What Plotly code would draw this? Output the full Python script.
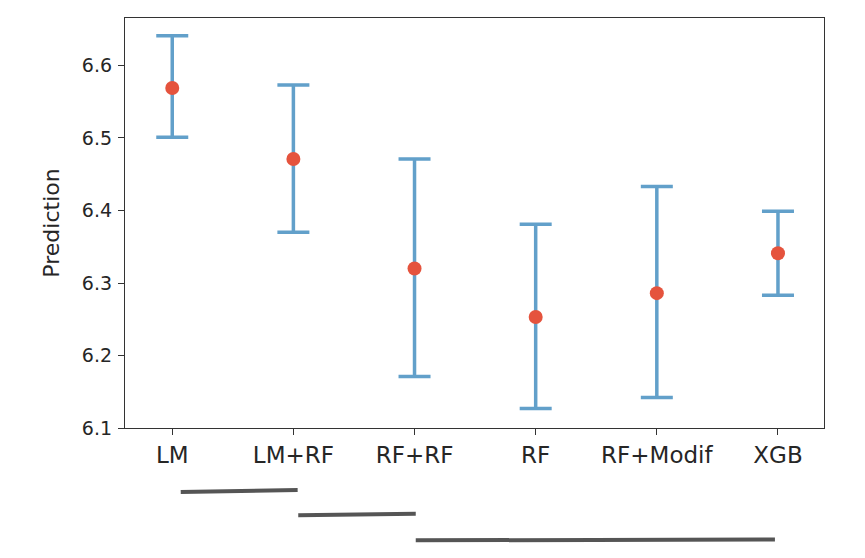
import plotly.graph_objects as go

# Model names and prediction intervals
models = ["LM", "LM+RF", "RF+RF", "RF", "RF+Modif", "XGB"]
pred_mean = [6.569, 6.471, 6.320, 6.253, 6.286, 6.341]
pred_upper = [6.641, 6.573, 6.471, 6.381, 6.433, 6.399]
pred_lower = [6.501, 6.370, 6.171, 6.127, 6.142, 6.283]

# Grouping bars under the axis (start/end in category index units)
group_start = [0.07, 1.04, 2.01]
group_end = [1.035, 2.01, 4.975]
group_level0 = [-0.156, -0.213, -0.274]
group_level1 = [-0.151, -0.209, -0.272]

err_plus = [u - m for u, m in zip(pred_upper, pred_mean)]
err_minus = [m - l for m, l in zip(pred_mean, pred_lower)]

fig = go.Figure()
fig.add_trace(go.Scatter(
    x=models,
    y=pred_mean,
    mode="markers",
    marker=dict(color="#e5533d", size=14),
    error_y=dict(
        type="data",
        symmetric=False,
        array=err_plus,
        arrayminus=err_minus,
        color="#62a0ca",
        thickness=3.5,
        width=16,
    ),
    showlegend=False,
))

for x0, x1, y0, y1 in zip(group_start, group_end, group_level0, group_level1):
    fig.add_shape(
        type="line", xref="x", yref="paper",
        x0=x0, x1=x1, y0=y0, y1=y1,
        line=dict(color="#555555", width=4),
    )

axis_style = dict(
    showline=True, mirror=True, linecolor="#333333", linewidth=1.3,
    ticks="outside", ticklen=6, tickwidth=1.3, tickcolor="#333333",
    showgrid=False, zeroline=False,
)

fig.update_layout(
    width=857,
    height=550,
    margin=dict(l=117, r=41, t=10, b=130),
    plot_bgcolor="white",
    paper_bgcolor="white",
    font=dict(family="DejaVu Sans", color="#262626"),
    xaxis=dict(
        range=[-0.39, 5.38],
        tickfont=dict(size=23),
        **axis_style,
    ),
    yaxis=dict(
        range=[6.1, 6.6655],
        tickvals=[6.1, 6.2, 6.3, 6.4, 6.5, 6.6],
        ticktext=["6.1", "6.2", "6.3", "6.4", "6.5", "6.6"],
        tickfont=dict(size=19),
        ticklabelstandoff=2,
        title=dict(text="Prediction", font=dict(size=22), standoff=16),
        **axis_style,
    ),
)

fig.write_html("out.html")
